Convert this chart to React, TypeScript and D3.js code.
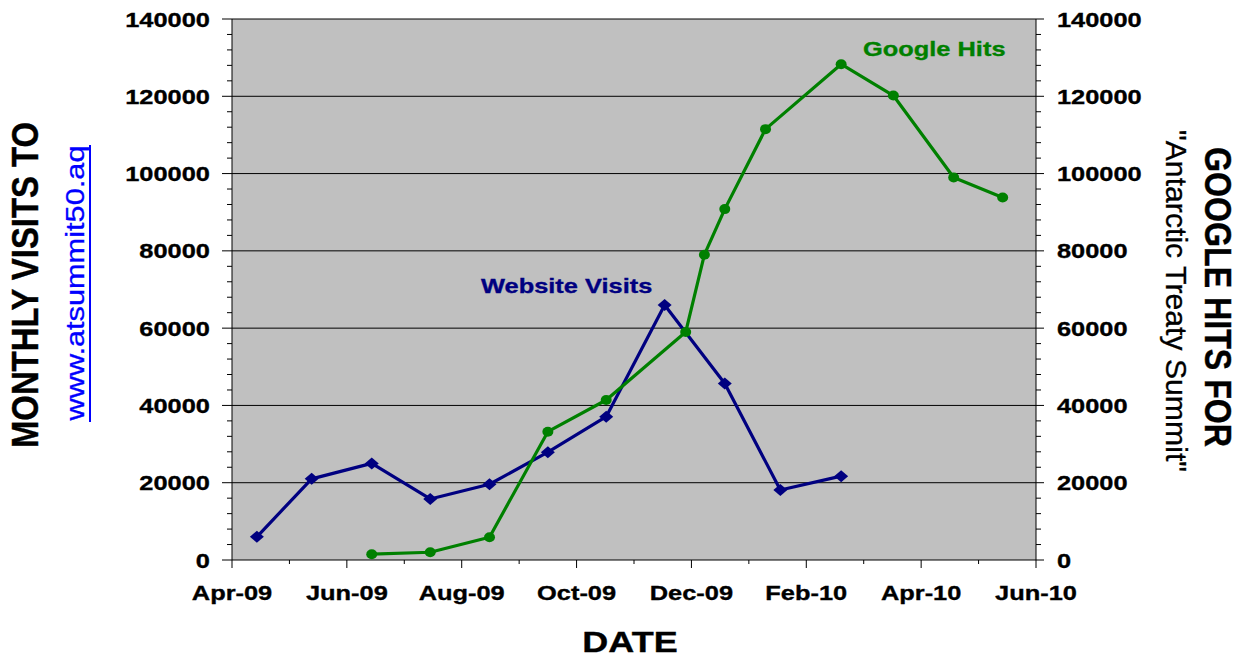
import React from "react";
import * as d3 from "d3";

const visitDates = ["2009-04-14","2009-05-13","2009-06-14","2009-07-15","2009-08-16","2009-09-16","2009-10-17","2009-11-17","2009-12-19","2010-01-18","2010-02-18"];
const visitValues = [6000, 21000, 25000, 15800, 19600, 27900, 37100, 66000, 45700, 18100, 21700];

const googleDates = ["2009-06-14","2009-07-15","2009-08-16","2009-09-16","2009-10-17","2009-11-28","2009-12-08","2009-12-19","2010-01-10","2010-02-18","2010-03-17","2010-04-18","2010-05-14"];
const googleValues = [1500, 2000, 5900, 33200, 41400, 59000, 79000, 90800, 111500, 128300, 120200, 99000, 93800];

const yMajorTicks = [0, 20000, 40000, 60000, 80000, 100000, 120000, 140000];

const W = 1237, H = 657;
const L = 232, R = 1036, T = 19, B = 560;
const SX = 1.21;
const FONT = "'Liberation Sans', Arial, Helvetica, sans-serif";
const NAVY = "#000080";
const GREEN = "#008000";

const parse = d3.timeParse("%Y-%m-%d");
const months = d3.timeMonth.range(new Date(2009, 3, 1), new Date(2010, 5, 2));
const x = d3.scaleTime()
  .domain(months)
  .range(months.map((_, i) => L + (i * (R - L)) / (months.length - 1)));
const y = d3.scaleLinear().domain([0, 140000]).range([B, T]);
const fmt = d3.timeFormat("%b-%y");

const visits = visitDates.map((d, i) => ({ date: parse(d)!, value: visitValues[i] }));
const google = googleDates.map((d, i) => ({ date: parse(d)!, value: googleValues[i] }));

const line = d3.line<{ date: Date; value: number }>()
  .x((d) => x(d.date))
  .y((d) => y(d.value));

const minorY = d3.range(0, 140001, 4000).filter((v) => v % 20000 !== 0);

function HText(props: { x: number; y: number; anchor?: string; size?: number; fill?: string; weight?: string; children: React.ReactNode; sx?: number }) {
  const { x: tx, y: ty, anchor = "start", size = 21, fill = "#000", weight = "bold", sx = SX } = props;
  return (
    <text
      transform={`translate(${tx},${ty}) scale(${sx},1)`}
      textAnchor={anchor}
      fontSize={size}
      fontWeight={weight}
      fontFamily={FONT}
      fill={fill}
      stroke={fill}
      strokeWidth={0.35}
    >
      {props.children}
    </text>
  );
}

export default function App() {
  return (
    <svg
      width={W}
      height={H}
      style={{ position: "absolute", left: 0, top: 0, background: "#fff" }}
    >
      <rect x={L} y={T} width={R - L} height={B - T} fill="#C0C0C0" />
      {yMajorTicks.filter((v) => v > 0).map((v) => (
        <line key={"g" + v} x1={L} x2={R} y1={y(v)} y2={y(v)} stroke="#000" strokeWidth={1} />
      ))}
      <line x1={L} x2={L} y1={T} y2={B} stroke="#000" strokeWidth={1} />
      <line x1={R} x2={R} y1={T} y2={B} stroke="#000" strokeWidth={1} />
      <line x1={L} x2={R} y1={B} y2={B} stroke="#000" strokeWidth={1} />
      {yMajorTicks.map((v) => (
        <g key={"t" + v}>
          <line x1={L - 10} x2={L} y1={y(v)} y2={y(v)} stroke="#000" />
          <line x1={R} x2={R + 8} y1={y(v)} y2={y(v)} stroke="#000" />
          <HText x={L - 22} y={y(v) + 7.5} anchor="end">{v}</HText>
          <HText x={R + 21} y={y(v) + 7.5} anchor="start">{v}</HText>
        </g>
      ))}
      {minorY.map((v) => (
        <g key={"m" + v}>
          <line x1={L - 5} x2={L} y1={y(v)} y2={y(v)} stroke="#000" />
          <line x1={R} x2={R + 5} y1={y(v)} y2={y(v)} stroke="#000" />
        </g>
      ))}
      {months.map((m, i) => (
        <g key={"x" + i}>
          <line x1={x(m)} x2={x(m)} y1={B} y2={B + (i % 2 === 0 ? 8 : 4)} stroke="#000" />
          {i % 2 === 0 && (
            <HText x={x(m)} y={600} anchor="middle">{fmt(m)}</HText>
          )}
        </g>
      ))}
      <path d={line(visits) || ""} fill="none" stroke={NAVY} strokeWidth={3.2} strokeLinejoin="round" />
      {visits.map((d, i) => {
        const cx = x(d.date), cy = y(d.value);
        return (
          <path key={"v" + i} d={`M${cx - 7},${cy}L${cx},${cy - 6}L${cx + 7},${cy}L${cx},${cy + 6}Z`} fill={NAVY} />
        );
      })}
      <path d={line(google) || ""} fill="none" stroke={GREEN} strokeWidth={3.2} strokeLinejoin="round" />
      {google.map((d, i) => (
        <ellipse key={"c" + i} cx={x(d.date)} cy={y(d.value)} rx={5.5} ry={5} fill={GREEN} />
      ))}
      <HText x={481} y={293} fill={NAVY}>Website Visits</HText>
      <HText x={863} y={56} fill={GREEN}>Google Hits</HText>
      <HText x={630} y={652} anchor="middle" size={30} sx={1.2}>DATE</HText>
      <text
        transform="translate(38,285) rotate(-90)"
        textAnchor="middle"
        fontSize={37}
        fontWeight="bold"
        fontFamily={FONT}
        stroke="#000"
        strokeWidth={0.4}
        textLength={326}
        lengthAdjust="spacingAndGlyphs"
      >
        MONTHLY VISITS TO
      </text>
      <text
        transform="translate(84,283) rotate(-90)"
        textAnchor="middle"
        fontSize={26}
        fontFamily={FONT}
        fill="#0000FF"
        stroke="#0000FF"
        strokeWidth={0.3}
        textLength={275}
        lengthAdjust="spacingAndGlyphs"
      >
        www.atsummit50.aq
      </text>
      <line x1={90} x2={90} y1={145} y2={422} stroke="#0000FF" strokeWidth={2} />
      <text
        transform="translate(1205,297) rotate(90)"
        textAnchor="middle"
        fontSize={37}
        fontWeight="bold"
        fontFamily={FONT}
        stroke="#000"
        strokeWidth={0.4}
        textLength={300}
        lengthAdjust="spacingAndGlyphs"
      >
        GOOGLE HITS FOR
      </text>
      <text
        transform="translate(1166,301) rotate(90)"
        textAnchor="middle"
        fontSize={29}
        fontFamily={FONT}
        stroke="#000"
        strokeWidth={0.3}
        textLength={342}
        lengthAdjust="spacingAndGlyphs"
      >
        "Antarctic Treaty Summit"
      </text>
    </svg>
  );
}
